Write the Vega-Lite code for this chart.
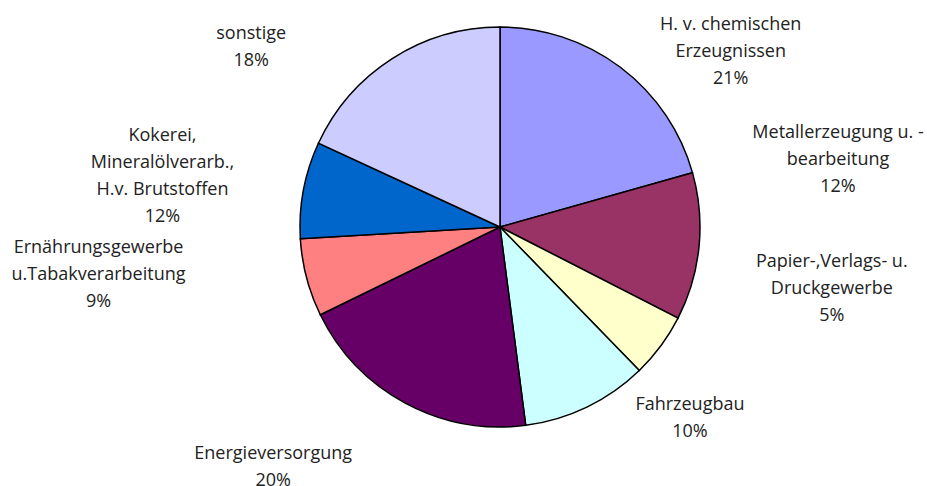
{
  "$schema": "https://vega.github.io/schema/vega-lite/v6.json",
  "width": 854,
  "height": 454,
  "autosize": {"type": "none"},
  "padding": {"left": 73, "top": 0, "right": 0, "bottom": 32},
  "background": "white",
  "config": {"view": {"stroke": null}},
  "data": {
    "values": [
      {"order": 1, "sector": "H. v. chemischen Erzeugnissen", "label": "H. v. chemischen\nErzeugnissen\n21%", "value": 20.6},
      {"order": 2, "sector": "Metallerzeugung u. -bearbeitung", "label": "Metallerzeugung u. -\nbearbeitung\n12%", "value": 11.9},
      {"order": 3, "sector": "Papier-,Verlags- u. Druckgewerbe", "label": "Papier-,Verlags- u.\nDruckgewerbe\n5%", "value": 5.2},
      {"order": 4, "sector": "Fahrzeugbau", "label": "Fahrzeugbau\n10%", "value": 10.2},
      {"order": 5, "sector": "Energieversorgung", "label": "Energieversorgung\n20%", "value": 19.8},
      {"order": 6, "sector": "Ernährungsgewerbe u.Tabakverarbeitung", "label": "Ernährungsgewerbe\nu.Tabakverarbeitung\n9%", "value": 6.3},
      {"order": 7, "sector": "Kokerei, Mineralölverarb., H.v. Brutstoffen", "label": "Kokerei,\nMineralölverarb.,\nH.v. Brutstoffen\n12%", "value": 7.8},
      {"order": 8, "sector": "sonstige", "label": "sonstige\n18%", "value": 18.1}
    ]
  },
  "encoding": {
    "theta": {"field": "value", "type": "quantitative", "stack": true},
    "order": {"field": "order", "type": "quantitative"}
  },
  "layer": [
    {
      "mark": {"type": "arc", "outerRadius": 200, "stroke": "black", "strokeWidth": 1.5},
      "encoding": {
        "color": {
          "field": "sector",
          "type": "nominal",
          "legend": null,
          "scale": {
            "domain": [
              "H. v. chemischen Erzeugnissen",
              "Metallerzeugung u. -bearbeitung",
              "Papier-,Verlags- u. Druckgewerbe",
              "Fahrzeugbau",
              "Energieversorgung",
              "Ernährungsgewerbe u.Tabakverarbeitung",
              "Kokerei, Mineralölverarb., H.v. Brutstoffen",
              "sonstige"
            ],
            "range": ["#9999FF", "#993366", "#FFFFCC", "#CCFFFF", "#660066", "#FF8080", "#0066CC", "#CCCCFF"]
          }
        }
      }
    },
    {
      "mark": {
        "type": "text",
        "radius": 200,
        "font": "Open Sans",
        "fontSize": 18,
        "lineHeight": 27,
        "lineBreak": "\n",
        "align": "center",
        "baseline": "middle",
        "fill": "#222222",
        "dx": {"expr": "[110, 139, 171, 103, -132, -208, -141, -141][datum.order - 1]"},
        "dy": {"expr": "[-43, -114, -84, -2.5, 50.5, -30, -53.5, -24.5][datum.order - 1]"}
      },
      "encoding": {
        "text": {"field": "label", "type": "nominal"}
      }
    }
  ]
}
